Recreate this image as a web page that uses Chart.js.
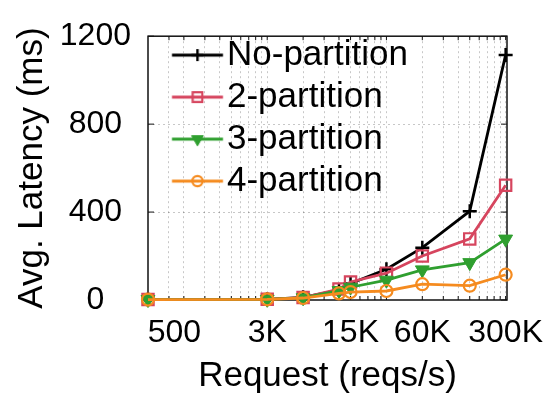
<!DOCTYPE html>
<html><head><meta charset="utf-8">
<script src="https://cdn.jsdelivr.net/npm/chart.js@4.4.0/dist/chart.umd.min.js"></script>
<style>html,body{margin:0;padding:0;background:#fff;}#wrap{width:543px;height:394px;}</style>
</head><body><div id="wrap"><canvas id="c" width="543" height="394"></canvas></div>
<script>
// ---- data ----
const requestRates   = [300, 3000, 6000, 12000, 15000, 30000, 60000, 150000, 300000];
const noPartition    = [2, 3, 12, 45, 75, 140, 238, 404, 1115];
const twoPartition   = [2, 3, 11, 50, 82, 122, 200, 278, 522];
const threePartition = [2, 3, 10, 43, 58, 90, 137, 170, 277];
const fourPartition  = [2, 3, 9, 30, 36, 41, 72, 65, 115];
const seriesNames    = ['No-partition', '2-partition', '3-partition', '4-partition'];
const xTickValues    = [500, 3000, 15000, 60000, 300000];
const xTickLabels    = ['500', '3K', '15K', '60K', '300K'];
const xGridValues    = [450, 600, 900, 1200, 1500, 1800, 2100, 2400, 2700, 3000,
                        6000, 9000, 12000, 15000, 18000, 21000, 24000, 27000, 30000,
                        60000, 90000, 120000, 150000, 180000, 210000, 240000, 270000, 300000];
const yTickValues    = [0, 400, 800, 1200];
const xMin = 300, xMax = 308000, yMin = 0, yMax = 1200;

// ---- styling ----
const FONT = 'Liberation Sans, Arial, Helvetica, sans-serif';
const GRID = 'rgba(0,0,0,0.22)';
const CLEAR = 'rgba(0,0,0,0)';
const styles = [
  {color: '#000000', pointStyle: 'cross',    radius: 7,   rotation: 0,   fill: CLEAR,     bw: 2.5},
  {color: '#d6455e', pointStyle: 'rect',     radius: 8,   rotation: 0,   fill: CLEAR,     bw: 2.2},
  {color: '#2f9f2f', pointStyle: 'triangle', radius: 8,   rotation: 180, fill: '#2f9f2f', bw: 1},
  {color: '#f58b1f', pointStyle: 'circle',   radius: 6,   rotation: 0,   fill: CLEAR,     bw: 2.2}
];
const seriesValues = [noPartition, twoPartition, threePartition, fourPartition];

// legend geometry
const AREA_LEFT = 148, LEG_PAD = 7, LEG_FONT = 35;
const LEG_TEXT_X = 227, LEG_LINE_X0 = 172, LEG_LINE_X1 = 223;
const PSW = LEG_TEXT_X - LEG_FONT / 2 - (AREA_LEFT + LEG_PAD);
const ICON_W = 88, ICON_H = 26;
const iconLeft = AREA_LEFT + LEG_PAD + PSW / 2 - ICON_W / 2;

function makeIcon(s) {
  const c = document.createElement('canvas');
  c.width = ICON_W; c.height = ICON_H;
  const g = c.getContext('2d');
  const cy = ICON_H / 2;
  g.strokeStyle = s.color; g.lineWidth = 2.8;
  g.beginPath(); g.moveTo(LEG_LINE_X0 - iconLeft, cy); g.lineTo(LEG_LINE_X1 - iconLeft, cy); g.stroke();
  g.fillStyle = s.fill; g.strokeStyle = s.color; g.lineWidth = s.bw;
  const mx = (LEG_LINE_X0 + LEG_LINE_X1) / 2 - iconLeft;
  Chart.helpers.drawPoint(g, {pointStyle: s.pointStyle, radius: s.radius * 0.85, rotation: s.rotation, borderWidth: s.bw}, mx, cy);
  return c;
}
const icons = styles.map(makeIcon);

const datasets = seriesNames.map((name, i) => ({
  label: name,
  data: seriesValues[i].map((v, k) => ({x: requestRates[k], y: v})),
  borderColor: styles[i].color,
  backgroundColor: styles[i].color,
  borderWidth: 2.8,
  pointStyle: styles[i].pointStyle,
  pointRadius: styles[i].radius,
  pointRotation: styles[i].rotation,
  pointBorderWidth: styles[i].bw,
  pointBorderColor: styles[i].color,
  pointBackgroundColor: styles[i].fill,
  tension: 0,
  clip: false,
  order: 4 - i
}));

const frame = {
  id: 'frame',
  beforeDatasetsDraw(chart) {
    const a = chart.chartArea, g = chart.ctx;
    g.save(); g.strokeStyle = '#111'; g.lineWidth = 1.5;
    g.strokeRect(a.left, a.top, a.right - a.left, a.bottom - a.top);
    // small inward tick marks on all four sides, taken from the scales
    g.lineWidth = 1;
    const xs = chart.scales.x, ys = chart.scales.y;
    xGridValues.forEach(v => {
      const px = xs.getPixelForValue(v);
      g.beginPath(); g.moveTo(px, a.bottom); g.lineTo(px, a.bottom - 4);
      g.moveTo(px, a.top); g.lineTo(px, a.top + 4); g.stroke();
    });
    yTickValues.forEach(v => {
      const py = ys.getPixelForValue(v);
      g.beginPath(); g.moveTo(a.left, py); g.lineTo(a.left + 6, py);
      g.moveTo(a.right, py); g.lineTo(a.right - 6, py); g.stroke();
    });
    g.restore();
  }
};

const allXTicks = Array.from(new Set(xGridValues.concat(xTickValues))).sort((a, b) => a - b);

new Chart(document.getElementById('c'), {
  type: 'line',
  data: {datasets},
  plugins: [frame],
  options: {
    responsive: false, animation: false, devicePixelRatio: 1,
    layout: {padding: {left: 0, right: 36, top: 23, bottom: 0}},
    plugins: {
      tooltip: {enabled: false},
      legend: {
        position: 'chartArea', align: 'start',
        title: {display: true, text: ' ', font: {size: 3}, padding: {top: 13.5, bottom: 13.5}},
        labels: {
          usePointStyle: true, pointStyleWidth: PSW, padding: LEG_PAD,
          color: '#000', font: {size: LEG_FONT, family: FONT},
          generateLabels: (chart) => chart.data.datasets.map((ds, i) => ({
            text: ds.label, pointStyle: icons[i], fillStyle: CLEAR, strokeStyle: CLEAR,
            lineWidth: 0, hidden: false, datasetIndex: i, fontColor: '#000'
          }))
        }
      }
    },
    scales: {
      x: {
        type: 'logarithmic', min: xMin, max: xMax, position: 'bottom',
        afterBuildTicks: (s) => { s.ticks = allXTicks.map(v => ({value: v})); },
        afterFit: (s) => { s.height = 94; s.paddingLeft = 0; s.paddingRight = 0; },
        ticks: {
          autoSkip: false, maxRotation: 0, minRotation: 0, padding: 14, color: '#000',
          font: {size: 32, family: FONT},
          callback: (v) => { const i = xTickValues.indexOf(v); return i >= 0 ? xTickLabels[i] : ''; }
        },
        grid: {drawTicks: false, lineWidth: 1,
          color: (c) => (c.tick && xGridValues.includes(c.tick.value)) ? GRID : CLEAR},
        border: {display: false, dash: [2, 3]},
        title: {display: true, text: 'Request (reqs/s)', color: '#000',
          font: {size: 35, family: FONT, lineHeight: 1}, padding: {top: 0, bottom: 0}}
      },
      y: {
        type: 'linear', min: yMin, max: yMax,
        afterBuildTicks: (s) => { s.ticks = yTickValues.map(v => ({value: v})); },
        afterFit: (s) => { s.width = AREA_LEFT; },
        ticks: {padding: 17, crossAlign: 'center', color: '#000', font: {size: 32, family: FONT},
          callback: (v) => String(v)},
        grid: {drawTicks: false, lineWidth: 1,
          color: (c) => (c.tick && (c.tick.value === yMin || c.tick.value === yMax)) ? CLEAR : GRID},
        border: {display: false, dash: [2, 3]},
        title: {display: true, text: 'Avg. Latency (ms)', color: '#000',
          font: {size: 35, family: FONT, lineHeight: 1}, padding: {top: 15, bottom: 0}}
      }
    }
  }
});
</script></body></html>
